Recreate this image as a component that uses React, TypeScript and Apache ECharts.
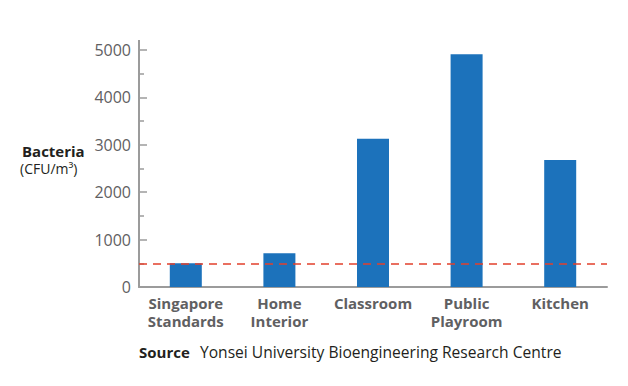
import React, { useEffect, useRef } from "react";
import * as echarts from "echarts";

const categories = ["Singapore\nStandards", "Home\nInterior", "Classroom", "Public\nPlayroom", "Kitchen"];
const values = [500, 710, 3130, 4910, 2680];
const standardLevel = 500;
const yTicks = [0, 1000, 2000, 3000, 4000, 5000];

export default function App() {
  const ref = useRef<HTMLDivElement>(null);
  useEffect(() => {
    document.body.style.margin = "0";
    const chart = echarts.init(ref.current!, null, { renderer: "svg" });
    const font = "'Open Sans', 'Noto Sans', sans-serif";
    chart.setOption({
      animation: false,
      grid: { left: 139, right: 21, top: 50, bottom: 99 },
      xAxis: {
        type: "category",
        data: categories,
        axisLine: { lineStyle: { color: "#9b9b9b", width: 2 } },
        axisTick: { show: false },
        axisLabel: {
          color: "#5f6062",
          fontFamily: font,
          fontWeight: "bold",
          fontSize: 15,
          lineHeight: 18,
          margin: 7,
          interval: 0,
        },
      },
      yAxis: {
        type: "value",
        min: 0,
        max: yTicks[yTicks.length - 1],
        interval: 1000,
        axisLine: { show: true, lineStyle: { color: "#9b9b9b", width: 2 } },
        axisTick: { show: true, inside: true, length: 8, lineStyle: { color: "#9b9b9b", width: 1.5 } },
        minorTick: { show: true, splitNumber: 2, length: 5, lineStyle: { color: "#9b9b9b", width: 1.5 } },
        splitLine: { show: false },
        axisLabel: {
          color: "#5f6062",
          fontFamily: font,
          fontSize: 16,
          margin: 8,
          formatter: (v: number) => String(v),
        },
      },
      graphic: [
        { type: "line", shape: { x1: 139, y1: 40, x2: 139, y2: 51 }, style: { stroke: "#9b9b9b", lineWidth: 2 } },
        {
          type: "text",
          left: 22,
          top: 142,
          style: { text: "Bacteria", fill: "#231f20", font: `bold 15px ${font}`, lineHeight: 17 },
        },
        {
          type: "text",
          left: 20,
          top: 160,
          style: { text: "(CFU/m³)", fill: "#231f20", font: `14px ${font}`, lineHeight: 17 },
        },
        {
          type: "text",
          left: 139,
          top: 344,
          style: { text: "Source", fill: "#231f20", font: `bold 15px ${font}` },
        },
        {
          type: "text",
          left: 200,
          top: 344,
          style: { text: "Yonsei University Bioengineering Research Centre", fill: "#231f20", font: `15.6px ${font}` },
        },
      ],
      series: [
        {
          type: "bar",
          data: values,
          barWidth: 32,
          itemStyle: { color: "#1c72bb" },
          markLine: {
            symbol: "none",
            silent: true,
            label: { show: false },
            lineStyle: { color: "#e2402c", type: [8, 6], width: 1.5 },
            data: [{ yAxis: standardLevel }],
          },
        },
      ],
    });
    return () => chart.dispose();
  }, []);
  return <div ref={ref} style={{ width: 628, height: 386 }} />;
}
